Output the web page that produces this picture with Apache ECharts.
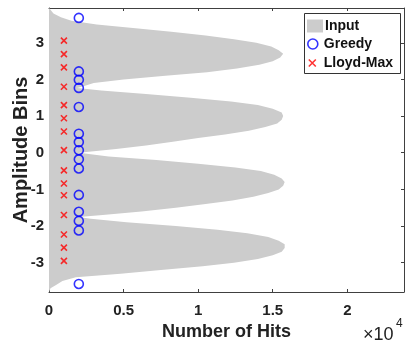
<!DOCTYPE html>
<html>
<head>
<meta charset="utf-8">
<script src="https://cdn.jsdelivr.net/npm/echarts@6/dist/echarts.min.js"></script>
<style>
  html, body { margin: 0; padding: 0; background: #fff; }
  #myCharts { width: 407px; height: 343px; }
</style>
</head>
<body>
<div id="myCharts"></div>
<script>
// amplitude points (y) and hit counts of the input histogram outline
var ampBins = [
  -3.8, -3.7, -3.6, -3.5, -3.4, -3.3, -3.2, -3.1, -3.0, -2.9,
  -2.8, -2.7, -2.6, -2.5, -2.4, -2.3, -2.2, -2.1, -2.0, -1.9,
  -1.8, -1.75, -1.7, -1.6, -1.5, -1.4, -1.3, -1.2, -1.1, -1.0,
  -0.9, -0.8, -0.7, -0.6, -0.5, -0.4, -0.3, -0.2, -0.1, 0.0,
  0.1, 0.2, 0.3, 0.4, 0.5, 0.6, 0.7, 0.8, 0.9, 1.0,
  1.1, 1.2, 1.3, 1.4, 1.5, 1.6, 1.7, 1.77, 1.8, 1.9,
  2.0, 2.1, 2.2, 2.3, 2.4, 2.5, 2.6, 2.7, 2.8, 2.9,
  3.0, 3.1, 3.2, 3.3, 3.4, 3.5, 3.6, 3.7, 3.8, 3.9, 3.95
];
var inputHits = [
  0, 100, 500, 900, 1800, 4800, 7500, 10300, 12400, 14000,
  15000, 15600, 15800, 15800, 15400, 14700, 13300, 11300, 8500, 5200,
  2800, 2000, 3600, 6200, 8500, 10500, 12300, 13700, 14700, 15400,
  15700, 15800, 15600, 15100, 14200, 12500, 10000, 7200, 4000, 2000,
  4500, 6500, 8300, 10000, 11800, 13400, 14500, 15300, 15600, 15700,
  15600, 15000, 14000, 12200, 9500, 6500, 3500, 1900, 2200, 3000,
  5000, 7800, 10600, 12600, 14100, 15000, 15500, 15700, 15400, 14900,
  13900, 12400, 10500, 8200, 5800, 3200, 1500, 800, 300, 100, 0
];

// quantizer levels
var greedyLevels = [3.68, 2.22, 1.99, 1.77, 1.25, 0.52, 0.29, 0.07, -0.18, -0.43, -1.15, -1.61, -1.86, -2.12, -3.58];
var greedyHits = 2000;
var lloydLevels = [3.06, 2.69, 2.33, 1.80, 1.30, 0.94, 0.58, 0.07, -0.48, -0.84, -1.16, -1.70, -2.23, -2.59, -2.95];
var lloydHits = 1000;

var xTicks = [0, 5000, 10000, 15000, 20000];
var yTicks = [-3, -2, -1, 0, 1, 2, 3];

var fontName = "'Liberation Sans', Arial, sans-serif";
var axisColor = '#404040';
var crossPath = 'path://M0,0L10,10M10,0L0,10';

function frameAxis(extra) {
  var base = {
    axisLine: { show: true, onZero: false, lineStyle: { color: axisColor, width: 1 } },
    axisTick: { show: true, inside: true, length: 3, lineStyle: { color: axisColor } },
    splitLine: { show: false },
    axisLabel: { show: false }
  };
  return Object.assign(base, extra);
}

function legendItem(name, top, left, w, h, icon, style, padLeft) {
  return {
    orient: 'vertical', left: left, top: top, padding: 0,
    itemWidth: w, itemHeight: h, z: 10,
    textStyle: { fontFamily: fontName, fontWeight: 'bold', fontSize: 14, color: '#111', padding: [0, 0, 0, padLeft] },
    data: [{ name: name, icon: icon, itemStyle: style }]
  };
}

var option = {
  animation: false,
  grid: { left: 49, right: 3, top: 8, bottom: 51, containLabel: false, outerBoundsMode: 'none' },
  legend: [
    legendItem('Input', 19, 307, 16, 13, 'rect', { color: '#cccccc', borderWidth: 0 }, -3),
    legendItem('Greedy', 37, 307, 10, 10, 'circle', { color: 'transparent', borderColor: '#0000ff', borderWidth: 1.6 }, 1),
    legendItem('Lloyd-Max', 56, 308, 7, 7, crossPath, { color: 'transparent', borderColor: '#ff0000', borderWidth: 1.6 }, 3)
  ],
  xAxis: [
    frameAxis({
      type: 'value', position: 'bottom', min: 0, max: 23800,
      name: 'Number of Hits', nameLocation: 'middle', nameGap: 31,
      nameTextStyle: { fontFamily: fontName, fontWeight: 'bold', fontSize: 18, color: '#222' },
      axisTick: { show: true, inside: true, length: 3, customValues: xTicks, lineStyle: { color: axisColor } },
      axisLabel: {
        show: true, customValues: xTicks, margin: 11,
        fontFamily: fontName, fontWeight: 'bold', fontSize: 15, color: '#222',
        formatter: function (v) { return String(v / 10000); }
      }
    }),
    frameAxis({
      type: 'value', position: 'top', min: 0, max: 23800,
      axisTick: { show: true, inside: true, length: 3, customValues: xTicks, lineStyle: { color: axisColor } }
    })
  ],
  yAxis: [
    frameAxis({
      type: 'value', position: 'left', min: -3.8, max: 3.95,
      name: 'Amplitude Bins', nameLocation: 'middle', nameGap: 18, nameMoveOverlap: false,
      nameTextStyle: { fontFamily: fontName, fontWeight: 'bold', fontSize: 20, color: '#222' },
      axisTick: { show: true, inside: true, length: 3, customValues: yTicks, lineStyle: { color: axisColor } },
      axisLabel: {
        show: true, customValues: yTicks, margin: 5,
        fontFamily: fontName, fontWeight: 'bold', fontSize: 15, color: '#222'
      }
    }),
    frameAxis({
      type: 'value', position: 'right', min: -3.8, max: 3.95,
      axisTick: { show: true, inside: true, length: 3, customValues: yTicks, lineStyle: { color: axisColor } }
    })
  ],
  graphic: [
    { type: 'rect', left: 304, top: 13, z: 3, shape: { width: 96, height: 60 }, style: { fill: '#fff', stroke: '#333', lineWidth: 1 } },
    { type: 'text', left: 363, top: 326, style: { text: '\u00d710', font: '18px ' + fontName, fill: '#222' } },
    { type: 'text', left: 396, top: 318, style: { text: '4', font: '12px ' + fontName, fill: '#222' } }
  ],
  series: [
    {
      name: 'Input',
      type: 'custom',
      xAxisIndex: 0,
      yAxisIndex: 0,
      data: [[0, 0]],
      itemStyle: { color: '#cccccc' },
      renderItem: function (params, api) {
        // whole outline as one polygon, closed along the zero-hits axis
        var pts = [api.coord([0, ampBins[0]])];
        for (var i = 0; i < ampBins.length; i++) {
          pts.push(api.coord([inputHits[i], ampBins[i]]));
        }
        pts.push(api.coord([0, ampBins[ampBins.length - 1]]));
        return {
          type: 'polygon',
          shape: { points: pts },
          style: { fill: '#cccccc' }
        };
      },
      z: 1
    },
    {
      name: 'Greedy',
      type: 'scatter',
      symbol: 'circle',
      symbolSize: 9,
      itemStyle: { color: 'transparent', borderColor: '#0000ff', borderWidth: 1.6 },
      data: greedyLevels.map(function (y) { return [greedyHits, y]; }),
      z: 3
    },
    {
      name: 'Lloyd-Max',
      type: 'scatter',
      symbol: crossPath,
      symbolSize: 6,
      itemStyle: { color: 'transparent', borderColor: '#ff0000', borderWidth: 1.6 },
      data: lloydLevels.map(function (y) { return [lloydHits, y]; }),
      z: 3
    }
  ]
};

var myChart = echarts.init(document.getElementById('myCharts'));
myChart.setOption(option);
</script>
</body>
</html>
